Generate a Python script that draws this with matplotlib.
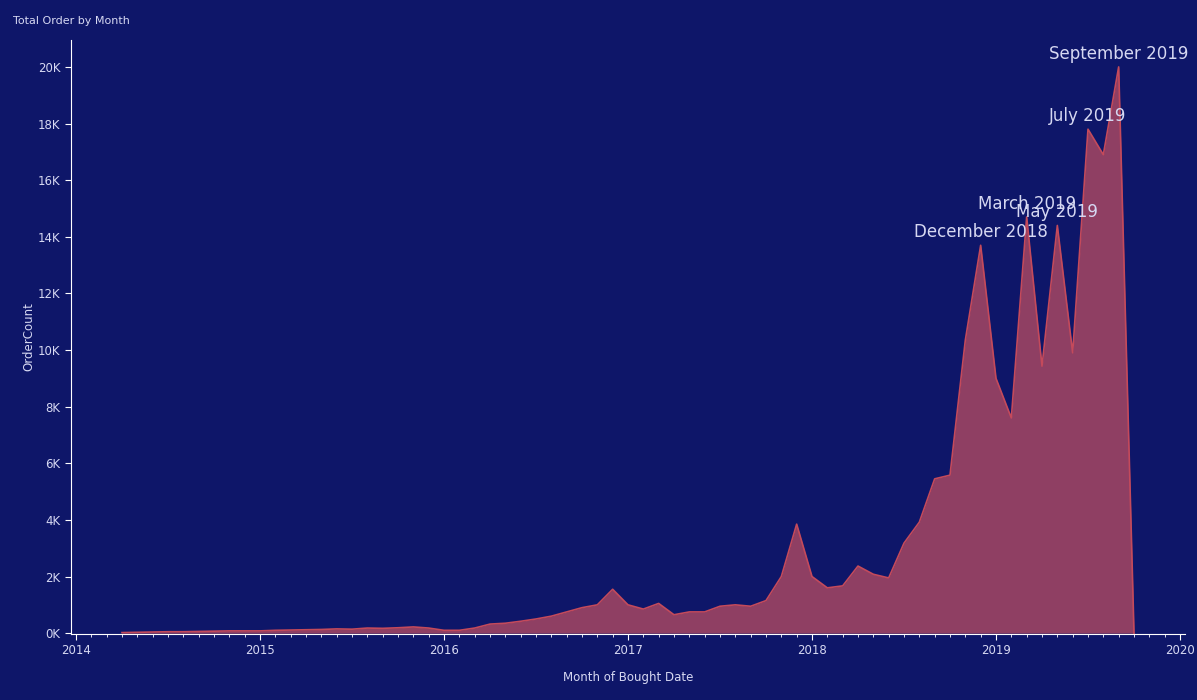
import matplotlib
matplotlib.use("Agg")
import matplotlib.pyplot as plt
from matplotlib.ticker import FuncFormatter, MultipleLocator

start_year, start_month = 2014, 4
orders = [20, 30, 40, 50, 50, 60, 70, 80, 80,
          80, 100, 110, 120, 130, 150, 140, 180, 170, 190, 220, 180,
          100, 100, 180, 320, 350, 420, 500, 600, 750, 900, 1000, 1550,
          1000, 850, 1050, 650, 750, 750, 950, 1000, 950, 1150, 2000, 3850,
          2000, 1600, 1670, 2370, 2080, 1950, 3180, 3920, 5450, 5580, 10350, 13700,
          9000, 7600, 14700, 9430, 14400, 9900, 17800, 16900, 20000, 0]
labels = {"December 2018": (2018, 12), "March 2019": (2019, 3), "May 2019": (2019, 5),
          "July 2019": (2019, 7), "September 2019": (2019, 9)}

xs = [start_year + (start_month - 1 + i) / 12 for i in range(len(orders))]
ys = [v / 1000 for v in orders]

bg = "#0e1669"
txt = "#d6d8f2"
fig = plt.figure(figsize=(11.97, 7), dpi=100, facecolor=bg)
ax = fig.add_axes([71/1197, 1-634/700, (1185-71)/1197, (634-40)/700], facecolor=bg)
ax.fill_between(xs, ys, 0, color="#8f3f63", lw=0)
ax.plot(xs, ys, color="#c44a5b", lw=1.2)
ax.set_xlim(2014 - 5/184, 2020 + 5/184)
ax.set_ylim(-0.03, 20.95)
for s in ["top", "right"]:
    ax.spines[s].set_visible(False)
for s in ["left", "bottom"]:
    ax.spines[s].set_color("white")
ax.xaxis.set_major_locator(MultipleLocator(1))
ax.xaxis.set_minor_locator(MultipleLocator(1/12))
ax.xaxis.set_major_formatter(FuncFormatter(lambda v, p: f"{int(round(v))}"))
ax.yaxis.set_major_locator(MultipleLocator(2))
ax.yaxis.set_major_formatter(FuncFormatter(lambda v, p: f"{int(round(v))}K"))
ax.tick_params(colors="white", labelcolor=txt, labelsize=8.5, length=4)
ax.tick_params(axis="x", which="minor", colors="white", length=2)
ax.set_xlabel("Month of Bought Date", color=txt, fontsize=8.5, labelpad=10)
ax.set_ylabel("OrderCount", color=txt, fontsize=8.5, labelpad=2)
for name, (y, m) in labels.items():
    x = y + (m - 1) / 12
    idx = min(range(len(xs)), key=lambda i: abs(xs[i] - x))
    ax.annotate(name, (xs[idx], ys[idx]), xytext=(0, 3), textcoords="offset points",
                ha="center", va="bottom", color=txt, fontsize=12)
fig.text(13/1197, 1-21/700, "Total Order by Month", color=txt, fontsize=8, va="center")
fig.savefig("out.png", dpi=100, facecolor=bg)
